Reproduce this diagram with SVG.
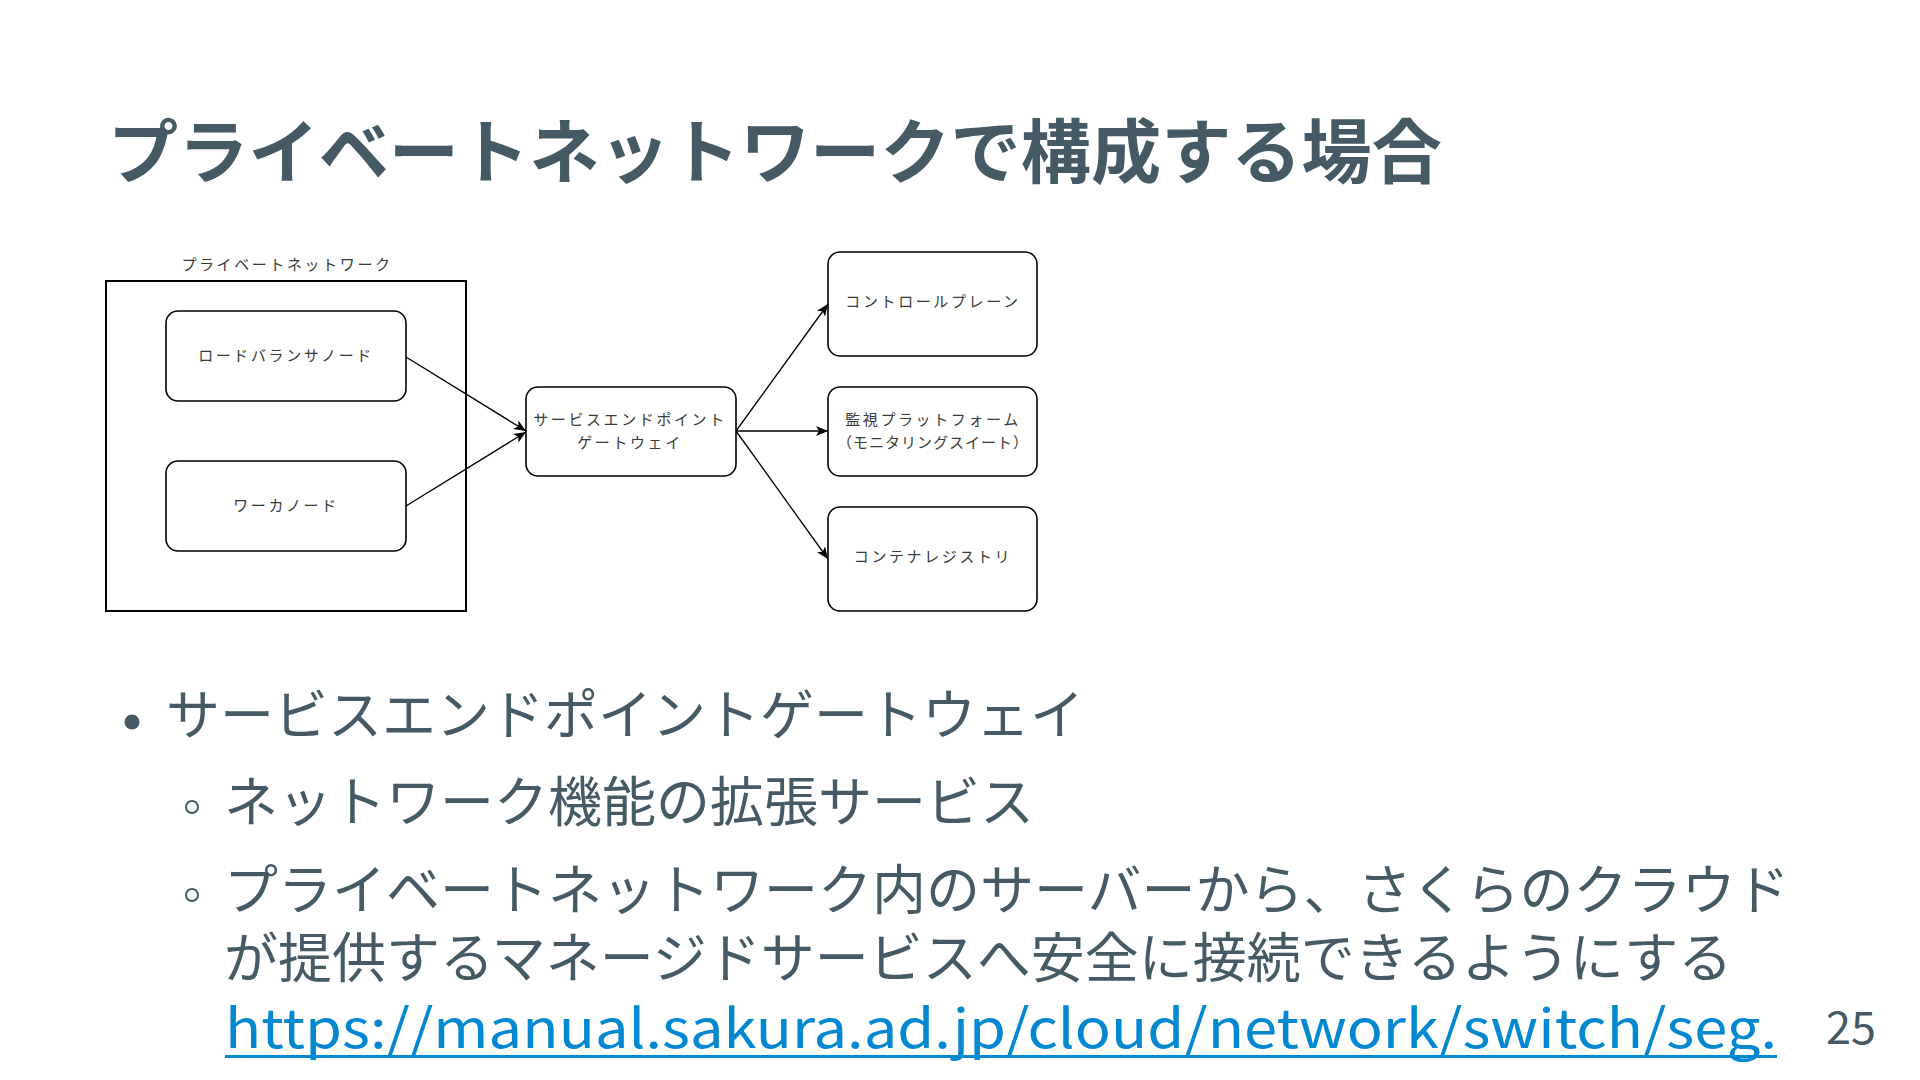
<svg xmlns="http://www.w3.org/2000/svg" width="1920" height="1080" viewBox="0 0 1920 1080">
<style>
.title{font-family:"Noto Sans CJK JP","Noto Sans",sans-serif;font-weight:700;font-size:70px;fill:#455a64}
.body{font-family:"Noto Sans CJK JP","Noto Sans",sans-serif;font-size:54px;fill:#455a64}
.link{font-family:"Noto Sans CJK JP","Noto Sans",sans-serif;font-size:54px;fill:#0288d1}
.pg{font-family:"Noto Sans CJK JP","Noto Sans",sans-serif;font-size:45px;fill:#455a64}
.lbl{font-family:"Noto Sans CJK JP",sans-serif;font-size:15px;fill:#3a3a3a;letter-spacing:2.6px;text-anchor:middle}
.node{fill:#fff;stroke:#000;stroke-width:1.6}
.conn{stroke:#000;stroke-width:1.3;fill:none;marker-end:url(#arr)}
</style>
<defs>
<marker id="arr" markerUnits="userSpaceOnUse" markerWidth="12" markerHeight="10" viewBox="0 0 12 10" refX="12" refY="5" orient="auto">
<path d="M0,0 L12,5 L0,10 L3,5 z" fill="#000"/>
</marker>
</defs>
<rect width="1920" height="1080" fill="#fff"/>
<text class="title" x="108" y="178" textLength="1334" lengthAdjust="spacingAndGlyphs">プライベートネットワークで構成する場合</text>

<g id="private-network">
<rect x="106" y="281" width="360" height="330" fill="none" stroke="#000" stroke-width="2"/>
<text class="lbl" x="287" y="270">プライベートネットワーク</text>
</g>
<g id="lb-node">
<rect class="node" x="166" y="311" width="240" height="90" rx="12"/>
<text class="lbl" x="286" y="361">ロードバランサノード</text>
</g>
<g id="worker-node">
<rect class="node" x="166" y="461" width="240" height="90" rx="12"/>
<text class="lbl" x="286" y="511">ワーカノード</text>
</g>
<g id="gateway">
<rect class="node" x="526" y="387" width="210" height="89" rx="12"/>
<text class="lbl" x="630" y="425">サービスエンドポイント</text>
<text class="lbl" x="630" y="448">ゲートウェイ</text>
</g>
<g id="control-plane">
<rect class="node" x="828" y="252" width="209" height="104" rx="12"/>
<text class="lbl" x="933" y="307">コントロールプレーン</text>
</g>
<g id="monitoring">
<rect class="node" x="828" y="387" width="209" height="89" rx="12"/>
<text class="lbl" x="933" y="425">監視プラットフォーム</text>
<text class="lbl" x="933" y="448" style="letter-spacing:1px">（モニタリングスイート）</text>
</g>
<g id="registry">
<rect class="node" x="828" y="507" width="209" height="104" rx="12"/>
<text class="lbl" x="933" y="562">コンテナレジストリ</text>
</g>
<g id="connectors">
<line class="conn" x1="406" y1="357" x2="526" y2="431"/>
<line class="conn" x1="406" y1="506" x2="526" y2="432"/>
<line class="conn" x1="736" y1="431" x2="828" y2="304"/>
<line class="conn" x1="736" y1="431" x2="828" y2="431"/>
<line class="conn" x1="736" y1="431" x2="828" y2="559"/>
</g>

<circle cx="132" cy="722" r="7.5" fill="#455a64"/>
<text class="body" x="166" y="735">サービスエンドポイントゲートウェイ</text>
<circle cx="192" cy="807" r="6" fill="none" stroke="#455a64" stroke-width="2"/>
<text class="body" x="224" y="822">ネットワーク機能の拡張サービス</text>
<circle cx="192" cy="895" r="6" fill="none" stroke="#455a64" stroke-width="2"/>
<text class="body" x="224" y="910">プライベートネットワーク内のサーバーから、さくらのクラウド</text>
<text class="body" x="224" y="978">が提供するマネージドサービスへ安全に接続できるようにする</text>
<text class="link" x="225" y="1048" textLength="1552" lengthAdjust="spacingAndGlyphs">https://manual.sakura.ad.jp/cloud/network/switch/seg.</text>
<rect x="225" y="1055" width="1552" height="3" fill="#0288d1"/>
<text class="pg" x="1826" y="1044">25</text>
</svg>
